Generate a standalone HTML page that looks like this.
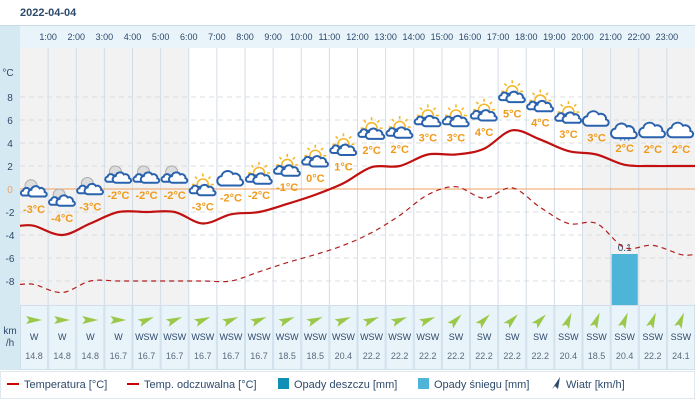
<!DOCTYPE html>
<html><head><meta charset="utf-8"><style>
html,body{margin:0;padding:0;background:#fff;}
body{width:695px;height:408px;overflow:hidden;font-family:"Liberation Sans",sans-serif;}
</style></head><body>
<svg id="chart" width="695" height="408" xmlns="http://www.w3.org/2000/svg" font-family="Liberation Sans, sans-serif">
<text x="20" y="16" font-size="11" font-weight="bold" fill="#2d4a6b">2022-04-04</text>
<rect x="0" y="25" width="20" height="345" fill="#d5e9f3"/>
<rect x="20" y="25" width="675" height="23" fill="#e9f3fa"/>
<line x1="0" y1="25.5" x2="695" y2="25.5" stroke="#c9dbe8"/>
<g id="bg"></g><g id="grid"></g><g id="bars"></g><g id="lines"></g><g id="icons"></g><g id="wind"></g>
<text x="8" y="76" font-size="10" fill="#2d4a6b" text-anchor="middle">°C</text>
<text x="10" y="334" font-size="10" fill="#2d4a6b" text-anchor="middle">km</text>
<text x="10" y="346" font-size="10" fill="#2d4a6b" text-anchor="middle">/h</text>
<g>
<rect x="0.5" y="371.5" width="694" height="27" fill="#fff" stroke="#dfe8ee"/>
<g><line x1="7" y1="384" x2="19" y2="384" stroke="#c00" stroke-width="2"/><text x="24" y="388" font-size="11" fill="#2d4a6b">Temperatura [°C]</text></g>
<g><line x1="127" y1="384" x2="139" y2="384" stroke="#c00" stroke-width="2"/><text x="144" y="388" font-size="11" fill="#2d4a6b">Temp. odczuwalna [°C]</text></g>
<g><rect x="278" y="378" width="11" height="11" fill="#0f8fb5"/><text x="294" y="388" font-size="11" fill="#2d4a6b">Opady deszczu [mm]</text></g>
<g><rect x="418" y="378" width="11" height="11" fill="#4fb5d8"/><text x="434" y="388" font-size="11" fill="#2d4a6b">Opady śniegu [mm]</text></g>
<g><path d="M552,389 L560,377 L558,389 L555,386 Z" fill="#2d4a6b"/><text x="566" y="388" font-size="11" fill="#2d4a6b">Wiatr [km/h]</text></g>
</g>
</svg>
<script>
const hours=["0:00","1:00","2:00","3:00","4:00","5:00","6:00","7:00","8:00","9:00","10:00","11:00","12:00","13:00","14:00","15:00","16:00","17:00","18:00","19:00","20:00","21:00","22:00","23:00"];
const temps=[-3.2,-4,-3,-2,-2,-2,-3,-2.2,-2,-1.3,-0.5,0.5,1.9,2,3,3,3.5,5.1,4.3,3.3,3,2.1,2,2];
const tempLabels=["-3°C","-4°C","-3°C","-2°C","-2°C","-2°C","-3°C","-2°C","-2°C","-1°C","0°C","1°C","2°C","2°C","3°C","3°C","4°C","5°C","4°C","3°C","3°C","2°C","2°C","2°C"];
const feels=[-8.3,-9,-8,-8,-8,-8,-8,-8,-7.2,-6.4,-5.7,-4.9,-3.8,-2.3,-0.5,0.2,-0.8,0.1,-1.6,-3,-3,-5.1,-4.9,-5.7];
const snow=[0,0,0,0,0,0,0,0,0,0,0,0,0,0,0,0,0,0,0,0,0,0.1,0,0];
const icons=["n","n","n","n","n","n","s","c","s","s","s","s","s","s","s","s","s","s","s","s","c","sn","c","c"];
const windDir=["W","W","W","W","WSW","WSW","WSW","WSW","WSW","WSW","WSW","WSW","WSW","WSW","WSW","SW","SW","SW","SW","SSW","SSW","SSW","SSW","SSW"];
const windSpd=[14.8,14.8,14.8,16.7,16.7,16.7,16.7,16.7,16.7,18.5,18.5,20.4,22.2,22.2,22.2,22.2,22.2,22.2,22.2,20.4,18.5,20.4,22.2,24.1];
const yTicks=[8,6,4,2,0,-2,-4,-6,-8];
const night=[1,1,1,1,1,1,0,0,0,0,0,0,0,0,0,0,0,0,0,0,1,1,1,1];

const NS="http://www.w3.org/2000/svg";
const X0=20,CW=675/24,PT=48,PB=305;
const cx=i=>X0+CW*(i+0.5);
const y=v=>189-11.5*v;
const snowScale=v=>PB-v*510;
function mk(tag,attrs,parent,txt){const e=document.createElementNS(NS,tag);for(const k in attrs)e.setAttribute(k,attrs[k]);if(txt!==undefined)e.textContent=txt;parent.appendChild(e);return e;}
const bg=document.getElementById('bg'),grid=document.getElementById('grid'),bars=document.getElementById('bars'),lines=document.getElementById('lines'),ic=document.getElementById('icons'),wd=document.getElementById('wind');

hours.forEach((h,i)=>{
  const r=mk('rect',{x:X0+CW*i,y:PT,width:CW,height:PB-PT,fill:night[i]?'#f2f2f2':'#fff'},bg);
  
  
  if(i>0){
    mk('line',{x1:X0+CW*i,y1:PT,x2:X0+CW*i,y2:PB,stroke:'#d3dde6','stroke-width':1},grid);
    const t=mk('text',{x:X0+CW*i,y:40,'font-size':9,fill:'#2d4a6b','text-anchor':'middle'},grid,h);
    
    
  }
});
yTicks.forEach(v=>{
  mk('line',{x1:X0,y1:y(v),x2:695,y2:y(v),stroke:v===0?'#f0a060':'#d8dde2','stroke-width':1,'stroke-dasharray':v===0?'':'5,4'},grid);
  const t=mk('text',{x:10,y:y(v)+4,'font-size':10,fill:v===0?'#f0a060':'#2d4a6b','text-anchor':'middle'},grid,String(v));
  
  
});
snow.forEach((v,i)=>{
  if(v<=0)return;
  const b=mk('rect',{x:X0+CW*i+1,y:snowScale(v),width:CW-2,height:PB-snowScale(v),fill:'#4fb5d8'},bars);
  
  
  const t=mk('text',{x:cx(i),y:snowScale(v)-3,'font-size':10,fill:'#2d4a6b','text-anchor':'middle'},bars,String(v));
  
  
});
function smooth(vals){
  const p=vals.map((v,i)=>[cx(i),y(v)]);
  p.unshift([X0,y(vals[0])]);p.push([695,y(vals[vals.length-1])]);
  let d='M'+p[0][0]+','+p[0][1];
  for(let i=0;i<p.length-1;i++){
    const p0=p[Math.max(0,i-1)],p1=p[i],p2=p[i+1],p3=p[Math.min(p.length-1,i+2)];
    const c1=[p1[0]+(p2[0]-p0[0])/6,p1[1]+(p2[1]-p0[1])/6],c2=[p2[0]-(p3[0]-p1[0])/6,p2[1]-(p3[1]-p1[1])/6];
    d+=` C${c1[0]},${c1[1]} ${c2[0]},${c2[1]} ${p2[0]},${p2[1]}`;
  }
  return d;
}
const fl=mk('path',{d:smooth(feels),fill:'none',stroke:'#b01e1e','stroke-width':1.2,'stroke-dasharray':'5,4'},lines);


const tl=mk('path',{d:smooth(temps),fill:'none',stroke:'#c01010','stroke-width':2.2},lines);



const CLOUD='M-8,5 a4.5,4.5 0 0 1 -1,-9 a6,6 0 0 1 11,-2 a5,5 0 0 1 7,5 a3,3 0 0 1 -1,6 z';
function cloud(g,dx,dy,s){mk('path',{d:CLOUD,transform:`translate(${dx},${dy}) scale(${s})`,fill:'#fff',stroke:'#2a62ad','stroke-width':2/s},g);}
function sun(g,dx,dy){
  mk('circle',{cx:dx,cy:dy,r:5.5,fill:'none',stroke:'#f5b82a','stroke-width':1.6},g);
  for(let a=-180;a<=0;a+=45){const r=Math.PI*a/180;mk('line',{x1:dx+8*Math.cos(r),y1:dy+8*Math.sin(r),x2:dx+11*Math.cos(r),y2:dy+11*Math.sin(r),stroke:'#f5b82a','stroke-width':1.6},g);}
}
function moon(g,dx,dy){mk('circle',{cx:dx,cy:dy,r:6,fill:'#ddd',stroke:'#aaa','stroke-width':1},g);}
icons.forEach((k,i)=>{
  const ty=y(temps[i]);
  const g=mk('g',{transform:`translate(${cx(i)},${ty-37})`},ic);
  
  
  if(k==='n'){moon(g,-3,-3);cloud(g,-6,4,0.55);cloud(g,4,4,0.75);}
  else if(k==='s'){sun(g,0,-2);mk('rect',{x:-10,y:-2,width:20,height:12,fill:'transparent'},g);cloud(g,-6,4,0.55);cloud(g,4,5,0.75);}
  else if(k==='c'){cloud(g,0,3,1.05);}
  else if(k==='sn'){cloud(g,0,5,1.05);mk('text',{x:0,y:15,'font-size':6,fill:'#2a62ad','text-anchor':'middle'},g,'* * *');}
  const t=mk('text',{x:cx(i),y:ty-13,'font-size':11,'font-weight':'bold',fill:'#f09a1a','text-anchor':'middle'},ic,tempLabels[i]);
  
  
});
const ang={"W":0,"WSW":-22.5,"SW":-45,"SSW":-67.5};
windDir.forEach((d,i)=>{
  const x0=X0+CW*i;
  const c=mk('rect',{x:x0+0.5,y:305.5,width:CW-1,height:64,fill:'#e9f3fa',stroke:'#cfe0ec'},wd);
  
  
  const a=mk('path',{d:'M-8,-4 L8,0 L-8,4 L-5,0 Z',fill:'#9cc84a',transform:`translate(${cx(i)},320) rotate(${ang[d]})`},wd);
  
  
  const t=mk('text',{x:cx(i),y:340,'font-size':9,fill:'#2d4a6b','text-anchor':'middle'},wd,d);
  
  
  const s=mk('text',{x:cx(i),y:359,'font-size':9,fill:'#5a6b7c','text-anchor':'middle'},wd,windSpd[i].toFixed(1));
  
  
});
</script>
</body></html>
